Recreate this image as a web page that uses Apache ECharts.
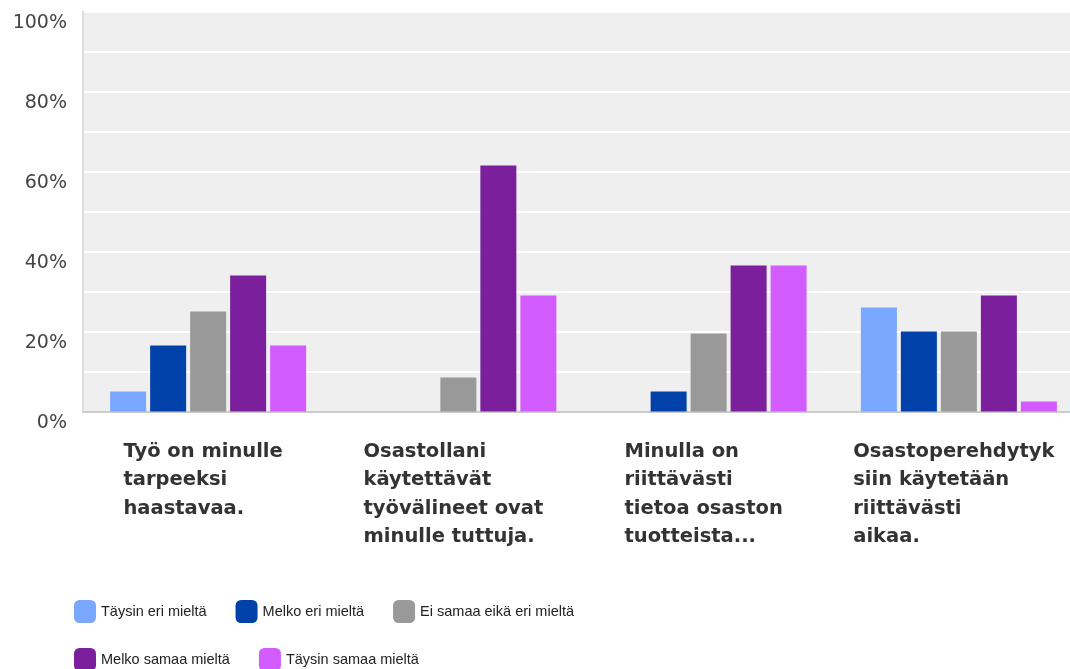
<!DOCTYPE html>
<html>
<head>
<meta charset="utf-8">
<script src="https://cdn.jsdelivr.net/npm/echarts@6/dist/echarts.min.js"></script>
<style>
html,body{margin:0;padding:0;background:#fff;}
#c{width:1070px;height:669px;}
</style>
</head>
<body>
<div id="c"></div>
<script>
const categories = [
  "Työ on minulle\ntarpeeksi\nhaastavaa.",
  "Osastollani\nkäytettävät\ntyövälineet ovat\nminulle tuttuja.",
  "Minulla on\nriittävästi\ntietoa osaston\ntuotteista...",
  "Osastoperehdytyk\nsiin käytetään\nriittävästi\naikaa."
];
const seriesNames = ["Täysin eri mieltä", "Melko eri mieltä", "Ei samaa eikä eri mieltä", "Melko samaa mieltä", "Täysin samaa mieltä"];
const tayEri = [5, 0, 0, 26];
const melkoEri = [16.5, 0, 5, 20];
const eiSamaa = [25, 8.5, 19.5, 20];
const melkoSamaa = [34, 61.5, 36.5, 29];
const taySamaa = [16.5, 29, 36.5, 2.5];
const yTicks = [0, 20, 40, 60, 80, 100];
const colors = ['#7aa7ff', '#0042a9', '#999999', '#7b1f9d', '#d35cff'];

const values = [tayEri, melkoEri, eiSamaa, melkoSamaa, taySamaa];
const chart = echarts.init(document.getElementById('c'), null, {renderer: 'canvas'});
const legendText = {fontFamily: 'Liberation Sans', fontSize: 14.5, color: '#222222'};
const option = {
  animation: false,
  grid: {left: 83, width: 1001, top: 11.5, height: 400, outerBoundsMode: 'none', containLabel: false, show: true, backgroundColor: '#efefef', borderWidth: 0},
  xAxis: {
    type: 'category',
    data: categories,
    axisTick: {show: false},
    axisLine: {show: true, lineStyle: {color: '#cccccc', width: 2}},
    axisLabel: {
      interval: 0,
      margin: 26,
      align: 'center',
      padding: [0, 10, 0, 0],
      formatter: v => v.split('\n').map(l => '{a|' + l + '}').join('\n'),
      rich: {a: {align: 'left', fontFamily: 'DejaVu Sans', fontWeight: 'bold', fontSize: 19.5, lineHeight: 28.5, color: '#333333'}}
    }
  },
  yAxis: {
    type: 'value',
    min: yTicks[0],
    max: yTicks[yTicks.length - 1],
    interval: 20,
    axisLine: {show: true, lineStyle: {color: '#dddddd', width: 2}},
    axisTick: {show: false},
    axisLabel: {formatter: '{value}%', fontFamily: 'DejaVu Sans', fontSize: 19, lineHeight: 24, color: '#444444', margin: 16, verticalAlign: 'top'},
    splitLine: {show: true, lineStyle: {color: '#ffffff', width: 2}},
    minorTick: {show: false, splitNumber: 2},
    minorSplitLine: {show: true, lineStyle: {color: '#ffffff', width: 2}}
  },
  legend: [
    {
      left: 74, top: 600, padding: 0, itemWidth: 22, itemHeight: 23, itemGap: 29, icon: 'roundRect',
      data: seriesNames.slice(0, 3), textStyle: legendText
    },
    {
      left: 74, top: 648, padding: 0, itemWidth: 22, itemHeight: 23, itemGap: 29, icon: 'roundRect',
      data: seriesNames.slice(3), textStyle: legendText
    }
  ],
  series: seriesNames.map((n, i) => ({
    name: n,
    type: 'bar',
    data: values[i],
    barWidth: 36,
    barGap: '11.1%',
    itemStyle: {color: colors[i]}
  }))
};
chart.setOption(option);
</script>
</body>
</html>
